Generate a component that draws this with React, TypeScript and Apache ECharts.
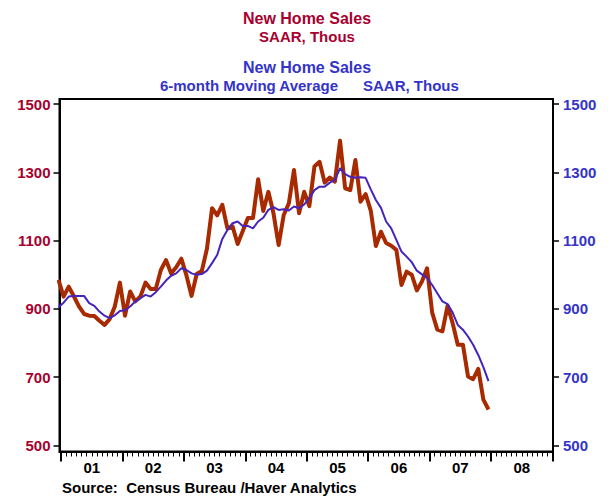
import React, { useEffect, useRef } from 'react';
import * as echarts from 'echarts';

// Monthly new home sales, SAAR thousands, Dec 2000 .. Dec 2007
const salesMonthly = [
  985,
  936, 965, 937, 907, 885, 880, 879, 865, 853, 870, 907, 977,
  880, 951, 922, 936, 977, 958, 958, 1014, 1043, 1004, 1022, 1047,
  998, 938, 1002, 1011, 1076, 1195, 1174, 1205, 1136, 1142, 1090, 1128,
  1166, 1166, 1280, 1187, 1243, 1180, 1087, 1175, 1209, 1307, 1180, 1243,
  1201, 1317, 1331, 1270, 1285, 1273, 1393, 1253, 1248, 1336, 1214, 1236,
  1188, 1084, 1126, 1093, 1085, 1073, 970, 1009, 1000, 954, 980, 1019,
  889, 839, 834, 909, 858, 795, 795, 702, 694, 724, 634, 605,
];

// 6-month moving average, Dec 2000 .. Dec 2007
const movingAvg6 = [
  905,
  918, 936, 938, 938, 938, 917, 909, 892, 880, 873, 881, 894,
  896, 907, 922, 931, 941, 936, 949, 965, 983, 997, 1004, 1019,
  1014, 1004, 1000, 1002, 1012, 1034, 1058, 1105, 1131, 1151, 1156, 1143,
  1143, 1136, 1156, 1167, 1190, 1198, 1190, 1192, 1188, 1200, 1195, 1206,
  1224, 1248, 1258, 1258, 1270, 1278, 1312, 1295, 1287, 1284, 1286, 1284,
  1250, 1219, 1196, 1156, 1136, 1102, 1068, 1053, 1037, 1012, 1001, 991,
  970, 946, 922, 914, 889, 853, 839, 819, 795, 765, 729, 688,
];

const yearLabels = ['01', '02', '03', '04', '05', '06', '07', '08'];
const yTicks = [500, 700, 900, 1100, 1300, 1500];
// first observation (Dec 2000) sits one month before Jan 2001
const firstMonthOffset = -1;

const FONT = "'Liberation Sans', Arial, Helvetica, sans-serif";
const RED_TEXT = '#A8002E';
const BLUE_TEXT = '#3434C8';
const RED_LINE = '#A82A00';
const BLUE_LINE = '#4424BC';

export default function App() {
  const ref = useRef<HTMLDivElement>(null);

  useEffect(() => {
    const chart = echarts.init(ref.current as HTMLDivElement, null, { renderer: 'svg' });
    const toPoints = (arr: number[]) => arr.map((v, i) => [i + firstMonthOffset + 0.5, v]);
    const monthTicks = Array.from({ length: yearLabels.length * 12 + 1 }, (_, i) => i);
    const yearTicks = Array.from({ length: yearLabels.length + 1 }, (_, i) => i * 12);
    const yearMid = yearLabels.map((_, i) => i * 12 + 6);

    const yAxisBase = (position: string, color: string) => ({
      type: 'value',
      min: 482,
      max: 1515,
      position,
      axisLine: { show: true, onZero: false, lineStyle: { color: '#000', width: 2 } },
      axisTick: { show: true, customValues: yTicks, length: 6, lineStyle: { color: '#000', width: 1.5 } },
      axisLabel: {
        show: true,
        customValues: yTicks,
        formatter: (v: number) => String(Math.round(v)),
        color,
        fontFamily: FONT,
        fontWeight: 'bold',
        fontSize: 15,
        margin: position === 'left' ? 9 : 10,
      },
      splitLine: { show: false },
    });

    chart.setOption({
      animation: false,
      grid: {
        left: 59.5,
        right: 57,
        top: 99,
        bottom: 44.5,
        show: true,
        borderColor: '#000',
        borderWidth: 2,
        backgroundColor: 'transparent',
      },
      xAxis: [
        {
          type: 'value',
          min: -0.3,
          max: 96.1,
          position: 'bottom',
          axisLine: { show: true, onZero: false, lineStyle: { color: '#000', width: 2 } },
          axisTick: { show: true, customValues: monthTicks, length: 5, lineStyle: { color: '#000', width: 1 } },
          axisLabel: { show: false },
          splitLine: { show: false },
        },
        {
          type: 'value',
          min: -0.3,
          max: 96.1,
          position: 'bottom',
          axisLine: { show: false, onZero: false },
          axisTick: { show: true, customValues: yearTicks, length: 10, lineStyle: { color: '#000', width: 2 } },
          axisLabel: {
            show: true,
            customValues: yearMid,
            formatter: (v: number) => yearLabels[Math.round((v - 6) / 12)] ?? '',
            color: '#000',
            fontFamily: FONT,
            fontWeight: 'bold',
            fontSize: 15,
            margin: 8,
          },
          splitLine: { show: false },
        },
      ],
      yAxis: [yAxisBase('left', RED_TEXT), yAxisBase('right', BLUE_TEXT)],
      series: [
        {
          name: 'New Home Sales',
          type: 'line',
          xAxisIndex: 0,
          yAxisIndex: 0,
          data: toPoints(salesMonthly),
          showSymbol: false,
          clip: true,
          lineStyle: { color: RED_LINE, width: 4, join: 'round' },
          z: 2,
        },
        {
          name: 'New Home Sales 6-month Moving Average',
          type: 'line',
          xAxisIndex: 0,
          yAxisIndex: 1,
          data: toPoints(movingAvg6),
          showSymbol: false,
          clip: true,
          lineStyle: { color: BLUE_LINE, width: 2 },
          z: 3,
        },
      ],
      graphic: [
        {
          type: 'text', x: 307, y: 18,
          style: { text: 'New Home Sales', fill: RED_TEXT, fontFamily: FONT, fontWeight: 'bold', fontSize: 16, align: 'center', verticalAlign: 'middle' },
        },
        {
          type: 'text', x: 307, y: 36,
          style: { text: 'SAAR, Thous', fill: RED_TEXT, fontFamily: FONT, fontWeight: 'bold', fontSize: 15, align: 'center', verticalAlign: 'middle' },
        },
        {
          type: 'text', x: 307, y: 67.5,
          style: { text: 'New Home Sales', fill: BLUE_TEXT, fontFamily: FONT, fontWeight: 'bold', fontSize: 16, align: 'center', verticalAlign: 'middle' },
        },
        {
          type: 'text', x: 338, y: 85,
          style: { text: '6-month Moving Average', fill: BLUE_TEXT, fontFamily: FONT, fontWeight: 'bold', fontSize: 15, align: 'right', verticalAlign: 'middle' },
        },
        {
          type: 'text', x: 363, y: 85,
          style: { text: 'SAAR, Thous', fill: BLUE_TEXT, fontFamily: FONT, fontWeight: 'bold', fontSize: 15, align: 'left', verticalAlign: 'middle' },
        },
        {
          type: 'text', x: 62, y: 487,
          style: { text: 'Source:  Census Bureau /Haver Analytics', fill: '#000', fontFamily: FONT, fontWeight: 'bold', fontSize: 15, align: 'left', verticalAlign: 'middle' },
        },
      ],
    });

    return () => {
      chart.dispose();
    };
  }, []);

  return (
    <div
      ref={ref}
      style={{ position: 'fixed', left: 0, top: 0, width: 610, height: 496, background: '#fff' }}
    />
  );
}
